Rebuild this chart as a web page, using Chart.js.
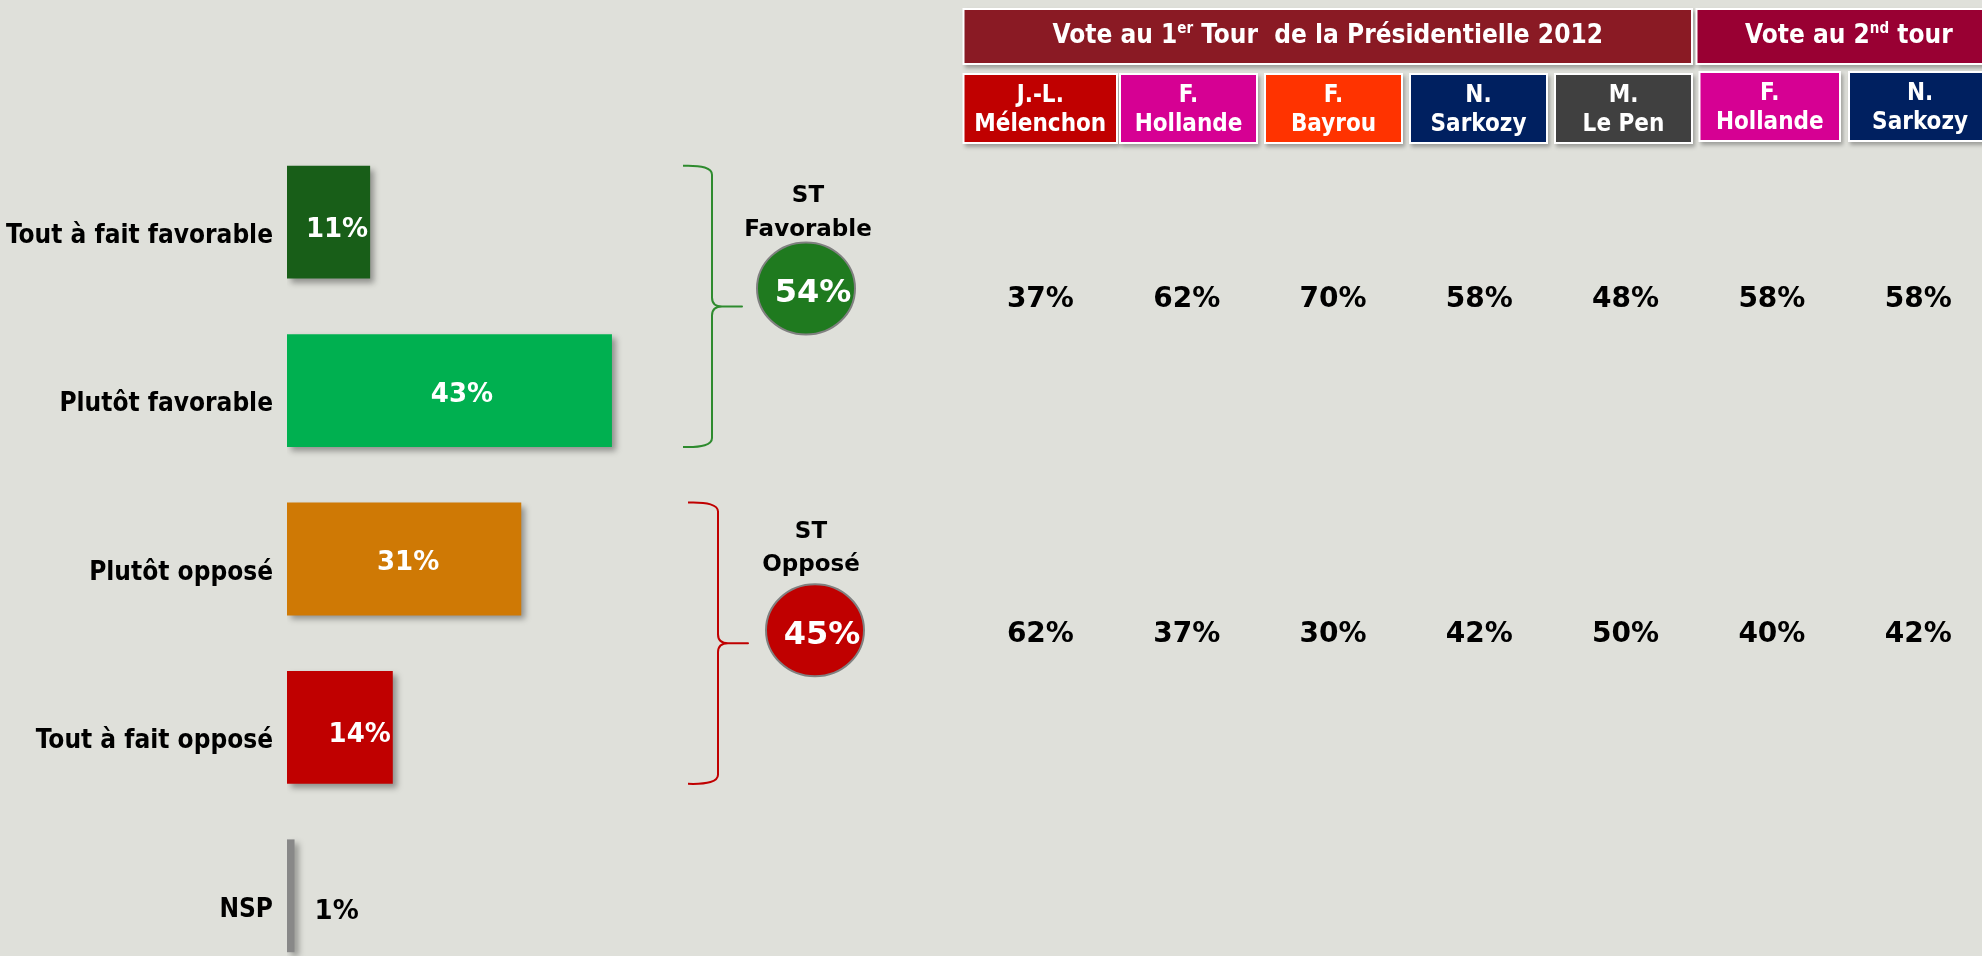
<!DOCTYPE html>
<html><head><meta charset="utf-8">
<script src="https://cdn.jsdelivr.net/npm/chart.js@4"></script>
<style>
html,body{margin:0;padding:0;width:1982px;height:956px;overflow:hidden;background:#DFE0DA;}
#a{position:absolute;left:0;top:0;}
#b{position:absolute;left:940px;top:0;}
</style></head><body>
<canvas id="a" width="952" height="980"></canvas>
<canvas id="b" width="1060" height="956"></canvas>
<script>
// ---------- DATA ----------
const categories = ['Tout à fait favorable', 'Plutôt favorable', 'Plutôt opposé', 'Tout à fait opposé', 'NSP'];
const values = [11, 43, 31, 14, 1];
const stLabels = [['ST', 'Favorable'], ['ST', 'Opposé']];
const stValues = [54, 45];
const stGroups = [[0, 1], [2, 3]];
const candidates = [['J.-L.', 'Mélenchon'], ['F.', 'Hollande'], ['F.', 'Bayrou'], ['N.', 'Sarkozy'], ['M.', 'Le Pen'], ['F.', 'Hollande'], ['N.', 'Sarkozy']];
const rounds = [['Vote au 1', 'er', ' Tour  de la Présidentielle 2012'], ['Vote au 2', 'nd', ' tour']];
const roundSpans = [[0, 4], [5, 6]];
const rowLabels = ['ST Favorable', 'ST Opposé'];
const favByCandidate = [37, 62, 70, 58, 48, 58, 58];
const oppByCandidate = [62, 37, 30, 42, 50, 40, 42];

// ---------- STYLE ----------
const barColors = ['#185E18', '#00B050', '#CF7905', '#C00000', '#888888'];
const candColors = ['#C00000', '#D60093', '#FF3300', '#002060', '#404040', '#D60093', '#002060'];
const roundColors = ['#8A1A24', '#990033'];
const boxExt = [[-75.9, 75.6], [-65.7, 69.3], [-67, 68], [-68.3, 66.7], [-69.6, 65.4], [-71.4, 67.1], [-68.2, 72]];
const boxY = [[75, 142], [75, 142], [75, 142], [75, 142], [75, 142], [73, 140], [73, 140]];
const roundPad = [[0, 0], [-3, 10]];
const braceStyle = [
  {color: '#2E8B2E', armX: 683, vX: 712, tipX: 742, cx: 806, cdy: -18, rx: 49, ry: 46, fill: '#1F7A1F', tx: 808, st1: -113, st2: -79},
  {color: '#C00000', armX: 688, vX: 718, tipX: 748, cx: 815, cdy: -13, rx: 49, ry: 46, fill: '#C00000', tx: 811, st1: -114, st2: -81}
];

function widthOf(font, s) { const c = document.createElement('canvas').getContext('2d'); c.font = font; return c.measureText(s).width; }
const probe = 'Tout à fait favorable Mélenchon';
const COND = widthOf('bold 40px "DejaVu Sans Condensed", monospace', probe) < 0.95 * widthOf('bold 40px "DejaVu Sans", monospace', probe);
const condFam = COND ? '"DejaVu Sans Condensed", "DejaVu Sans"' : '"DejaVu Sans"';
const SZ = COND ? {cat: 26, head: 26, sup: 15, cand: 24} : {cat: 24, head: 24.5, sup: 14.5, cand: 22.5};
const regFam = '"DejaVu Sans"';
const CAP = 0.729;

function capText(ctx, s, x, capMid, size) { ctx.fillText(s, x, capMid + size * CAP / 2); }

// ---------- CHART A ----------
const plA = {
  id: 'plA',
  beforeDatasetsDraw(chart) {
    const c = chart.ctx; c.save();
    c.shadowColor = 'rgba(0,0,0,0.35)'; c.shadowBlur = 6; c.shadowOffsetX = 4; c.shadowOffsetY = 4;
  },
  afterDatasetsDraw(chart) {
    const ctx = chart.ctx; ctx.restore();
    const meta = chart.getDatasetMeta(0);
    ctx.save();
    ctx.textBaseline = 'alphabetic';
    meta.data.forEach((bar, i) => {
      const txt = values[i] + '%';
      const size = 26;
      ctx.font = 'bold ' + size + 'px ' + regFam;
      const w = ctx.measureText(txt).width;
      const left = Math.min(bar.base, bar.x), right = Math.max(bar.base, bar.x);
      const bw = right - left;
      if (bw > w * 0.8) {
        ctx.fillStyle = '#FFFFFF';
        if (bw < 2 * w) { ctx.textAlign = 'right'; capText(ctx, txt, right - 2, bar.y + 5, size); }
        else { ctx.textAlign = 'center'; capText(ctx, txt, (left + right) / 2 + 4 + Math.max(0, bw - 240) / 10, bar.y + 2, size); }
      } else {
        ctx.fillStyle = '#000000'; ctx.textAlign = 'left';
        capText(ctx, txt, right + 20, bar.y + 14, size);
      }
    });
    stGroups.forEach((g, k) => {
      const b0 = meta.data[g[0]], b1 = meta.data[g[g.length - 1]];
      const top = b0.y - b0.height / 2, bot = b1.y + b1.height / 2, mid = (top + bot) / 2;
      const s = braceStyle[k];
      ctx.strokeStyle = s.color; ctx.lineWidth = 2; ctx.lineJoin = 'round';
      ctx.beginPath();
      ctx.moveTo(s.armX, top);
      ctx.quadraticCurveTo(s.vX, top - 1, s.vX, top + 9);
      ctx.lineTo(s.vX, mid - 9);
      ctx.quadraticCurveTo(s.vX, mid, s.vX + 10, mid);
      ctx.lineTo(s.tipX, mid);
      ctx.lineTo(s.vX + 10, mid);
      ctx.quadraticCurveTo(s.vX, mid, s.vX, mid + 9);
      ctx.lineTo(s.vX, bot - 9);
      ctx.quadraticCurveTo(s.vX, bot + 1, s.armX, bot);
      ctx.stroke();
      const cy = mid + s.cdy;
      ctx.beginPath(); ctx.ellipse(s.cx, cy, s.rx, s.ry, 0, 0, Math.PI * 2);
      ctx.fillStyle = s.fill; ctx.fill();
      ctx.strokeStyle = '#808080'; ctx.lineWidth = 2; ctx.stroke();
      ctx.fillStyle = '#FFFFFF'; ctx.textAlign = 'center';
      ctx.font = 'bold 32px ' + regFam;
      capText(ctx, stValues[k] + '%', s.cx + 7, cy + 2, 32);
      ctx.fillStyle = '#000000';
      ctx.font = 'bold 23px ' + regFam;
      capText(ctx, stLabels[k][0], s.tx, mid + s.st1, 23);
      capText(ctx, stLabels[k][1], s.tx, mid + s.st2, 23);
    });
    ctx.restore();
  }
};

new Chart(document.getElementById('a'), {
  type: 'bar',
  data: {labels: categories, datasets: [{data: values, backgroundColor: barColors, borderWidth: 0, barPercentage: 0.67, categoryPercentage: 1}]},
  options: {
    indexAxis: 'y', responsive: false, maintainAspectRatio: false, animation: false, devicePixelRatio: 1,
    layout: {padding: {top: 138, bottom: 0, left: 0, right: 0}},
    plugins: {legend: {display: false}, tooltip: {enabled: false}},
    scales: {
      x: {display: false, min: 0, max: 88},
      y: {
        grid: {display: false, drawTicks: false}, border: {display: false},
        ticks: {color: '#000000', font: {family: condFam, size: SZ.cat, weight: 'bold'}, padding: 14, labelOffset: 14},
        afterFit(s) { s.width = 287; s.paddingTop = 0; s.paddingBottom = 0; }
      }
    }
  },
  plugins: [plA]
});

// ---------- CHART B (table) ----------
function boxRect(scale, i) {
  const c = scale.getPixelForValue(i);
  return {l: c + boxExt[i][0], r: c + boxExt[i][1], t: boxY[i][0], b: boxY[i][1]};
}
function drawBox(ctx, l, t, r, b, fill) {
  ctx.save();
  ctx.shadowColor = 'rgba(0,0,0,0.3)'; ctx.shadowBlur = 4; ctx.shadowOffsetX = 2; ctx.shadowOffsetY = 3;
  ctx.fillStyle = '#FFFFFF'; ctx.fillRect(l - 2, t - 2, r - l + 4, b - t + 4);
  ctx.restore();
  ctx.fillStyle = fill; ctx.fillRect(l, t, r - l, b - t);
}
const plB = {
  id: 'plB',
  afterDatasetsDraw(chart) {
    const ctx = chart.ctx, xs = chart.scales.x;
    ctx.save();
    ctx.textBaseline = 'alphabetic';
    roundSpans.forEach((sp, k) => {
      const a = boxRect(xs, sp[0]), z = boxRect(xs, sp[1]);
      const l = a.l + roundPad[k][0], r = z.r + roundPad[k][1];
      drawBox(ctx, l, 10, r, 63, roundColors[k]);
      const parts = rounds[k];
      const fMain = 'bold ' + SZ.head + 'px ' + condFam, fSup = 'bold ' + SZ.sup + 'px ' + condFam;
      ctx.font = fMain; const w0 = ctx.measureText(parts[0]).width, w2 = ctx.measureText(parts[2]).width;
      ctx.font = fSup; const w1 = ctx.measureText(parts[1]).width;
      let x = (l + r) / 2 - (w0 + w1 + w2) / 2;
      const base = 34 + SZ.head * CAP / 2;
      ctx.fillStyle = '#FFFFFF'; ctx.textAlign = 'left';
      ctx.font = fMain; ctx.fillText(parts[0], x, base); x += w0;
      ctx.font = fSup; ctx.fillText(parts[1], x, base - 10); x += w1;
      ctx.font = fMain; ctx.fillText(parts[2], x, base);
    });
    candidates.forEach((lines, i) => {
      const bx = boxRect(xs, i);
      drawBox(ctx, bx.l, bx.t, bx.r, bx.b, candColors[i]);
      ctx.fillStyle = '#FFFFFF'; ctx.textAlign = 'center';
      ctx.font = 'bold ' + SZ.cand + 'px ' + condFam;
      const cx = (bx.l + bx.r) / 2;
      capText(ctx, lines[0], cx, bx.t + 18.5, SZ.cand);
      capText(ctx, lines[1], cx, bx.t + 47, SZ.cand);
    });
    ctx.fillStyle = '#000000'; ctx.textAlign = 'center';
    ctx.font = 'bold 28px ' + regFam;
    chart.data.datasets.forEach((ds, d) => {
      chart.getDatasetMeta(d).data.forEach((pt, i) => {
        capText(ctx, ds.data[i].v + '%', pt.x, pt.y, 28);
      });
    });
    ctx.restore();
  }
};

new Chart(document.getElementById('b'), {
  type: 'line',
  data: {
    labels: candidates,
    datasets: [favByCandidate, oppByCandidate].map((vals, r) => ({
      data: vals.map((v, i) => ({x: i, y: rowLabels[r], v: v})),
      showLine: false, pointRadius: 0, pointHoverRadius: 0
    }))
  },
  options: {
    responsive: false, maintainAspectRatio: false, animation: false, devicePixelRatio: 1,
    layout: {padding: {left: 27.25, right: 8.65, top: 129.5, bottom: 156.5}},
    plugins: {legend: {display: false}, tooltip: {enabled: false}},
    scales: {
      x: {type: 'category', display: false, offset: true},
      y: {type: 'category', labels: rowLabels, display: false, offset: true}
    }
  },
  plugins: [plB]
});
</script>
</body></html>
